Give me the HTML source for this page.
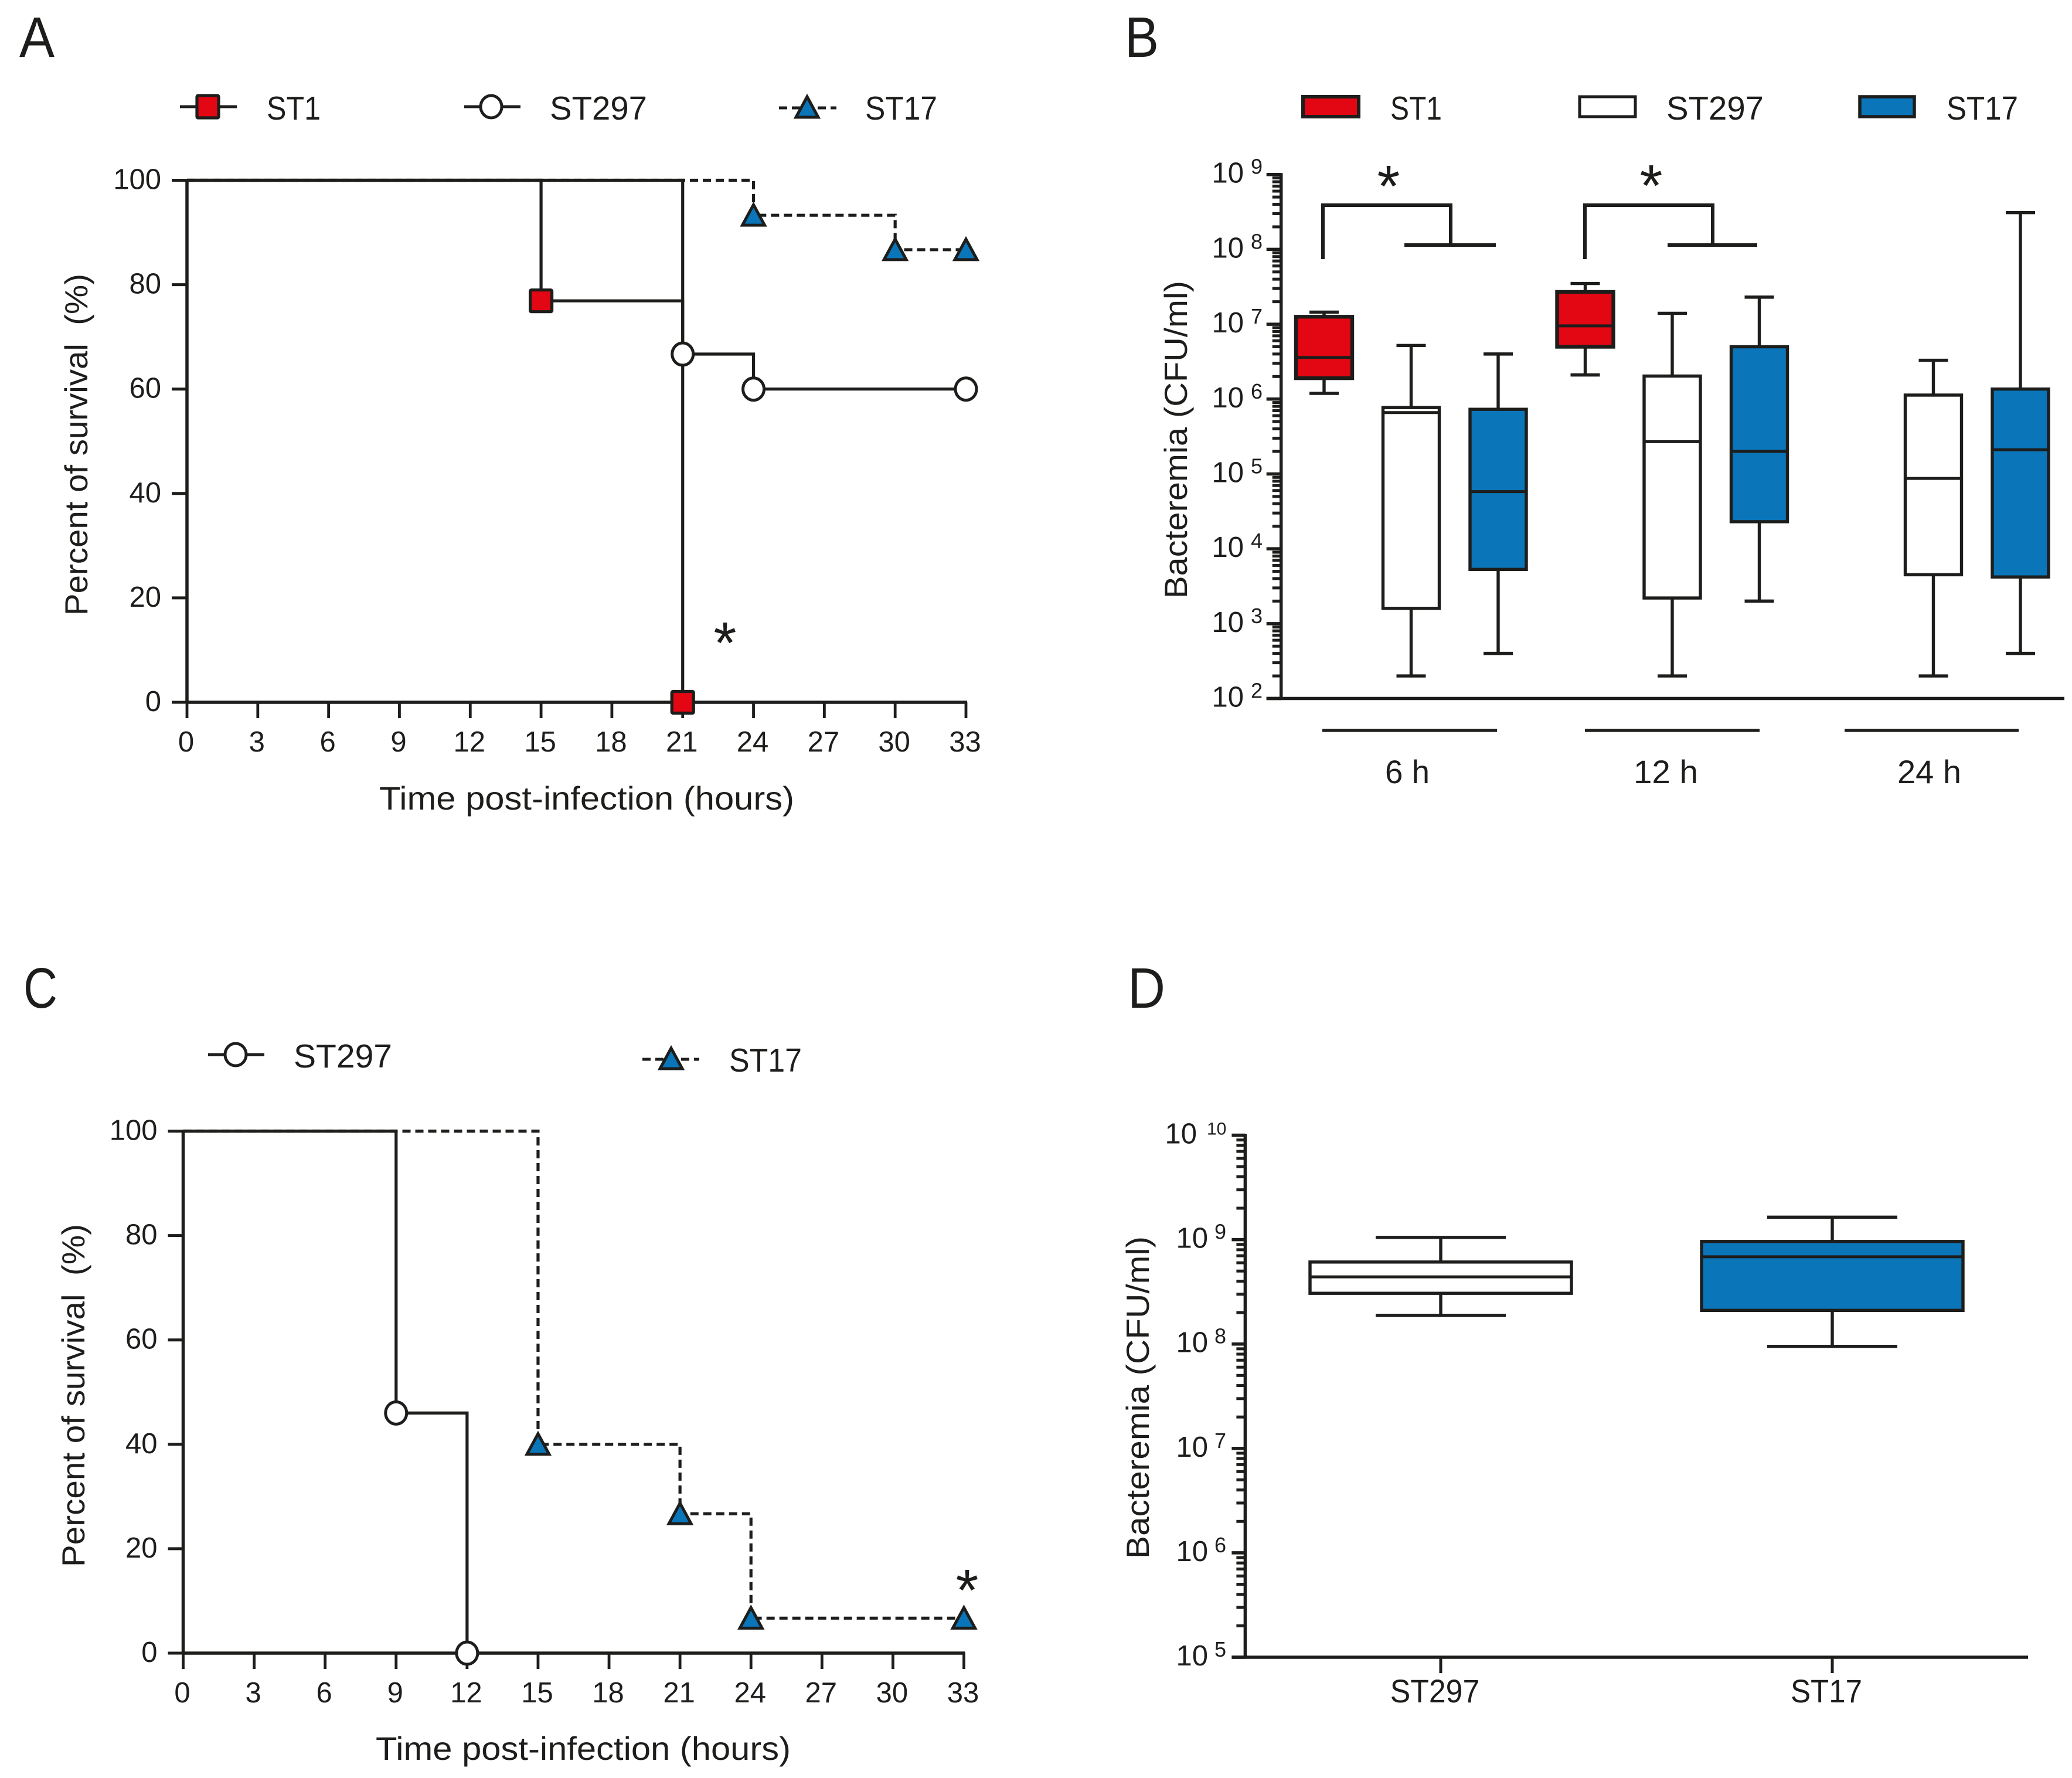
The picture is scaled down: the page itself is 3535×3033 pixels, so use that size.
<!DOCTYPE html>
<html lang="en">
<head>
<meta charset="utf-8">
<title>Survival and bacteremia panels</title>
<style>
html,body{margin:0;padding:0;background:#fff;}
svg{display:block;}
text{font-family:"Liberation Sans",sans-serif;fill:#1d1d1b;white-space:pre;}
</style>
</head>
<body>
<svg id="root" xmlns="http://www.w3.org/2000/svg" width="3535" height="3033" viewBox="0 0 3535 3033">
  <rect x="0" y="0" width="3535" height="3033" fill="#fff"/>

  <!-- panel letters -->
  <text x="33" y="97" font-size="97" textLength="60" lengthAdjust="spacingAndGlyphs">A</text>
  <text x="1919" y="97" font-size="97" textLength="58" lengthAdjust="spacingAndGlyphs">B</text>
  <text x="40" y="1719" font-size="97" textLength="58" lengthAdjust="spacingAndGlyphs">C</text>
  <text x="1924" y="1719" font-size="97" textLength="64" lengthAdjust="spacingAndGlyphs">D</text>

  <!-- panel A legend -->
  <g stroke="#1d1d1b" stroke-width="5">
    <g>
      <line x1="307" y1="182" x2="404" y2="182"/>
      <rect x="336" y="163" width="37" height="38" rx="2" fill="#e30613" stroke-width="5.2"/>
      <text x="455" y="204" font-size="57" textLength="92" lengthAdjust="spacingAndGlyphs" stroke="none">ST1</text>
    </g>
    <g>
      <line x1="792" y1="182" x2="888" y2="182"/>
      <ellipse cx="838" cy="182" rx="18" ry="19" fill="#fff"/>
      <text x="938" y="204" font-size="57" textLength="166" lengthAdjust="spacingAndGlyphs" stroke="none">ST297</text>
    </g>
    <g>
      <line x1="1329" y1="184" x2="1427" y2="184" stroke-dasharray="14 8"/>
      <polygon points="1377,165 1396,200 1358,200" fill="#0a75b9"/>
      <text x="1476" y="204" font-size="57" textLength="123" lengthAdjust="spacingAndGlyphs" stroke="none">ST17</text>
    </g>
  </g>

  <!-- panel B legend -->
  <g stroke="#1d1d1b">
    <g>
      <rect x="2223" y="165" width="95" height="34" fill="#e30613" stroke-width="6"/>
      <text x="2372" y="204" font-size="57" textLength="88" lengthAdjust="spacingAndGlyphs" stroke="none">ST1</text>
    </g>
    <g>
      <rect x="2695" y="165" width="95" height="34" fill="#fff" stroke-width="5"/>
      <text x="2843" y="204" font-size="57" textLength="166" lengthAdjust="spacingAndGlyphs" stroke="none">ST297</text>
    </g>
    <g>
      <rect x="3173" y="165" width="93" height="34" fill="#0a75b9" stroke-width="5.5"/>
      <text x="3321" y="204" font-size="57" textLength="122" lengthAdjust="spacingAndGlyphs" stroke="none">ST17</text>
    </g>
  </g>

  <!-- panel C legend -->
  <g stroke="#1d1d1b" stroke-width="5">
    <g>
      <line x1="355" y1="1799" x2="451" y2="1799"/>
      <ellipse cx="402" cy="1799" rx="18" ry="19" fill="#fff"/>
      <text x="501" y="1821" font-size="57" textLength="168" lengthAdjust="spacingAndGlyphs" stroke="none">ST297</text>
    </g>
    <g>
      <line x1="1096" y1="1807" x2="1193" y2="1807" stroke-dasharray="14 8"/>
      <polygon points="1145,1788 1164,1823 1126,1823" fill="#0a75b9"/>
      <text x="1244" y="1828" font-size="57" textLength="124" lengthAdjust="spacingAndGlyphs" stroke="none">ST17</text>
    </g>
  </g>

  <!-- axis titles -->
  <text x="647" y="1381" font-size="56" textLength="708" lengthAdjust="spacingAndGlyphs">Time post-infection (hours)</text>
  <text transform="translate(149,1050) rotate(-90)" x="0" y="0" font-size="55" textLength="583" lengthAdjust="spacingAndGlyphs">Percent of survival  (%)</text>
  <text x="641" y="3002" font-size="56" textLength="708" lengthAdjust="spacingAndGlyphs">Time post-infection (hours)</text>
  <text transform="translate(144,2673) rotate(-90)" x="0" y="0" font-size="55" textLength="585" lengthAdjust="spacingAndGlyphs">Percent of survival  (%)</text>
  <text transform="translate(2025,1021) rotate(-90)" x="0" y="0" font-size="55" textLength="542" lengthAdjust="spacingAndGlyphs">Bacteremia (CFU/ml)</text>
  <text transform="translate(1960,2659) rotate(-90)" x="0" y="0" font-size="55" textLength="550" lengthAdjust="spacingAndGlyphs">Bacteremia (CFU/ml)</text>

  <!-- significance annotations -->
  <text x="1237" y="1131" font-size="100" text-anchor="middle">*</text>
  <text x="1650" y="2747" font-size="100" text-anchor="middle">*</text>
  <text x="2369" y="352" font-size="100" text-anchor="middle">*</text>
  <text x="2817" y="351" font-size="100" text-anchor="middle">*</text>
  <path d="M2257 442V350H2475V418M2396 418H2552" fill="none" stroke="#1d1d1b" stroke-width="6"/>
  <path d="M2704 442V350H2922V418M2845 418H2998" fill="none" stroke="#1d1d1b" stroke-width="6"/>

  <!-- panel B time group underlines and labels -->
  <line x1="2256" y1="1246" x2="2554" y2="1246" stroke="#1d1d1b" stroke-width="5.3"/>
  <line x1="2704" y1="1246" x2="3002" y2="1246" stroke="#1d1d1b" stroke-width="5.3"/>
  <line x1="3147" y1="1246" x2="3444" y2="1246" stroke="#1d1d1b" stroke-width="5.3"/>
  <text x="2363" y="1336" font-size="56" textLength="76" lengthAdjust="spacingAndGlyphs">6 h</text>
  <text x="2787" y="1336" font-size="56" textLength="110" lengthAdjust="spacingAndGlyphs">12 h</text>
  <text x="3237" y="1336" font-size="56" textLength="109" lengthAdjust="spacingAndGlyphs">24 h</text>

  <g id="charts"></g>
</svg>

<script>
// Shared tick labels
const timeTicks = [0, 3, 6, 9, 12, 15, 18, 21, 24, 27, 30, 33];
const percentTicks = [0, 20, 40, 60, 80, 100];

// Panel A: survival drops (time in hours, percent surviving)
const aSt1Times = [15, 21];
const aSt1Values = [76.9, 0];
const aSt297Times = [21, 24, 33];
const aSt297Values = [66.7, 60, 60];
const aSt17Times = [24, 30, 33];
const aSt17Values = [93.3, 86.7, 86.7];

// Panel C: survival drops
const cSt297Times = [9, 12];
const cSt297Values = [46, 0];
const cSt17Times = [15, 21, 24, 33];
const cSt17Values = [40, 26.7, 6.7, 6.7];

// Panel B: box-and-whisker summaries (CFU/ml)
const bExponents = [2, 3, 4, 5, 6, 7, 8, 9];
const bTimepointIndex = [0, 0, 0, 1, 1, 1, 2, 2];
const bSeriesIndex = [0, 1, 2, 0, 1, 2, 1, 2];
const bLow = [1.19e6, 200, 400, 2.1e6, 200, 2e3, 200, 400];
const bQ1 = [1.9e6, 1.6e3, 5.3e3, 5e6, 2.2e3, 2.3e4, 4.5e3, 4.2e3];
const bMedian = [3.6e6, 6.6e5, 5.8e4, 9.5e6, 2.7e5, 2e5, 8.7e4, 2.1e5];
const bQ3 = [1.26e7, 7.7e5, 7.3e5, 2.7e7, 2.03e6, 5e6, 1.13e6, 1.36e6];
const bHigh = [1.45e7, 5.2e6, 4e6, 3.5e7, 1.4e7, 2.3e7, 3.3e6, 3.1e8];

// Panel D: box-and-whisker summaries (CFU/ml)
const dExponents = [5, 6, 7, 8, 9, 10];
const dCategories = ['ST297', 'ST17'];
const dLow = [1.88e8, 9.5e7];
const dQ1 = [3.06e8, 2.1e8];
const dMedian = [4.4e8, 6.85e8];
const dQ3 = [6.1e8, 9.6e8];
const dHigh = [1.05e9, 1.64e9];

const INK = '#1d1d1b';
const SERIES_FILL = ['#e30613', '#ffffff', '#0a75b9'];
const SERIES_NAME = ['st1', 'st297', 'st17'];
const SVG_NS = 'http://www.w3.org/2000/svg';
const charts = document.getElementById('charts');

function make(parent, tag, attrs, text) {
  const el = document.createElementNS(SVG_NS, tag);
  for (const k in attrs) el.setAttribute(k, attrs[k]);
  if (text !== undefined) el.textContent = text;
  parent.appendChild(el);
  return el;
}

function linearAxes(parent, x0, x1, yTop, yBottom, panel) {
  const sx = t => x0 + (t / 33) * (x1 - x0);
  const sy = v => yBottom - (v / 100) * (yBottom - yTop);
  const yAxis = make(parent, 'line', {x1: x0, y1: yTop - 2.5, x2: x0, y2: yBottom + 2.5, stroke: INK, 'stroke-width': 5.5});
  
  
  const xAxis = make(parent, 'line', {x1: x0, y1: yBottom, x2: x1 + 2, y2: yBottom, stroke: INK, 'stroke-width': 5.5});
  
  
  percentTicks.forEach(v => {
    const tick = make(parent, 'line', {x1: x0 - 26, y1: sy(v), x2: x0, y2: sy(v), stroke: INK, 'stroke-width': 5});
    
    
    const label = make(parent, 'text', {x: x0 - 44, y: sy(v) + 15, 'font-size': 49, 'text-anchor': 'end'}, String(v));
    
    
  });
  timeTicks.forEach(t => {
    const tick = make(parent, 'line', {x1: sx(t), y1: yBottom, x2: sx(t), y2: yBottom + 27, stroke: INK, 'stroke-width': 4.8});
    
    
    const label = make(parent, 'text', {x: sx(t) - 1.5, y: yBottom + 84, 'font-size': 49, 'text-anchor': 'middle'}, String(t));
    
    
  });
  return {sx, sy};
}

function stepPath(times, values, sx, sy) {
  let d = 'M' + sx(0) + ' ' + sy(100);
  times.forEach((t, i) => { d += 'H' + sx(t) + 'V' + sy(values[i]); });
  return d;
}

function survivalLine(parent, times, values, scale, dashed, name) {
  const path = make(parent, 'path', {d: stepPath(times, values, scale.sx, scale.sy), fill: 'none', stroke: INK, 'stroke-width': 5.2});
  if (dashed) path.setAttribute('stroke-dasharray', '14 8');
  
  
}

function survivalMarkers(parent, times, values, scale, shape, name) {
  times.forEach((t, i) => {
    const cx = scale.sx(t);
    const cy = scale.sy(values[i]);
    let m;
    if (shape === 'square') {
      m = make(parent, 'rect', {x: cx - 18.5, y: cy - 18.5, width: 37, height: 37, rx: 2, fill: '#e30613', stroke: INK, 'stroke-width': 5.2});
    } else if (shape === 'circle') {
      m = make(parent, 'ellipse', {cx: cx, cy: cy, rx: 18, ry: 19, fill: '#fff', stroke: INK, 'stroke-width': 5});
    } else {
      m = make(parent, 'polygon', {points: cx + ',' + (cy - 18) + ' ' + (cx + 19) + ',' + (cy + 17) + ' ' + (cx - 19) + ',' + (cy + 17), fill: '#0a75b9', stroke: INK, 'stroke-width': 5});
    }
    
    
  });
}

function logAxis(parent, axisX, yTop, yBottom, exps, xEnd, majorLen, minorLen, labelRight, supLeft, panel) {
  const lo = exps[0];
  const hi = exps[exps.length - 1];
  const sy = v => yTop + (hi - Math.log10(v)) / (hi - lo) * (yBottom - yTop);
  const yAxis = make(parent, 'line', {x1: axisX, y1: yTop - 2.5, x2: axisX, y2: yBottom + 2.5, stroke: INK, 'stroke-width': 5.5});
  
  
  const xAxis = make(parent, 'line', {x1: axisX - majorLen, y1: yBottom, x2: xEnd, y2: yBottom, stroke: INK, 'stroke-width': 5.5});
  
  
  exps.forEach(e => {
    const y = sy(Math.pow(10, e));
    const tick = make(parent, 'line', {x1: axisX - majorLen, y1: y, x2: axisX, y2: y, stroke: INK, 'stroke-width': 5.5});
    
    
    const two = e >= 10;
    const base = make(parent, 'text', {x: labelRight - (two ? 19 : 0), y: y + 14, 'font-size': 49, 'text-anchor': 'end'}, '10');
    
    
    const sup = make(parent, 'text', {x: supLeft - (two ? 13 : 0), y: y - 1, 'font-size': 36}, String(e));
    if (two) sup.setAttribute('font-size', '30');
    
    
    if (e < hi) {
      for (let m = 2; m <= 9; m++) {
        const my = sy(m * Math.pow(10, e));
        const minor = make(parent, 'line', {x1: axisX - minorLen, y1: my, x2: axisX, y2: my, stroke: INK, 'stroke-width': 5});
        
        
      }
    }
  });
  return sy;
}

function boxMark(parent, cx, halfBox, halfCap, sy, low, q1, med, q3, high, fill, sw, name) {
  const whisker = make(parent, 'line', {x1: cx, y1: sy(low), x2: cx, y2: sy(high), stroke: INK, 'stroke-width': 5.4});
  
  
  const capLow = make(parent, 'line', {x1: cx - halfCap, y1: sy(low), x2: cx + halfCap, y2: sy(low), stroke: INK, 'stroke-width': 5.4});
  
  
  const capHigh = make(parent, 'line', {x1: cx - halfCap, y1: sy(high), x2: cx + halfCap, y2: sy(high), stroke: INK, 'stroke-width': 5.4});
  
  
  const box = make(parent, 'rect', {x: cx - halfBox, y: sy(q3), width: halfBox * 2, height: sy(q1) - sy(q3), fill: fill, stroke: INK, 'stroke-width': sw});
  
  
  const median = make(parent, 'line', {x1: cx - halfBox, y1: sy(med), x2: cx + halfBox, y2: sy(med), stroke: INK, 'stroke-width': 5});
  
  
}

// Panel A
const groupA = make(charts, 'g', {});


const scaleA = linearAxes(groupA, 319, 1648, 307.5, 1198, 'panel-a');
survivalLine(groupA, aSt17Times, aSt17Values, scaleA, true, 'st17');
survivalLine(groupA, aSt297Times, aSt297Values, scaleA, false, 'st297');
survivalLine(groupA, aSt1Times, aSt1Values, scaleA, false, 'st1');
survivalMarkers(groupA, aSt17Times, aSt17Values, scaleA, 'triangle', 'st17');
survivalMarkers(groupA, aSt297Times, aSt297Values, scaleA, 'circle', 'st297');
survivalMarkers(groupA, aSt1Times, aSt1Values, scaleA, 'square', 'st1');

// Panel C
const groupC = make(charts, 'g', {});


const scaleC = linearAxes(groupC, 312.5, 1644.5, 1929.5, 2820, 'panel-c');
survivalLine(groupC, cSt17Times, cSt17Values, scaleC, true, 'st17');
survivalLine(groupC, cSt297Times, cSt297Values, scaleC, false, 'st297');
survivalMarkers(groupC, cSt17Times, cSt17Values, scaleC, 'triangle', 'st17');
survivalMarkers(groupC, cSt297Times, cSt297Values, scaleC, 'circle', 'st297');

// Panel B
const groupB = make(charts, 'g', {});


const syB = logAxis(groupB, 2185.7, 297.7, 1191.5, bExponents, 3522, 25, 15, 2122, 2134, 'panel-b');
const bSlotStart = 2259;
const bSlotStep = 148.5;
bLow.forEach((low, i) => {
  const slot = bTimepointIndex[i] * 3 + bSeriesIndex[i];
  const s = bSeriesIndex[i];
  boxMark(groupB, bSlotStart + slot * bSlotStep, 48, 25, syB, low, bQ1[i], bMedian[i], bQ3[i], bHigh[i], SERIES_FILL[s], s === 0 ? 6.4 : 5.4, SERIES_NAME[s]);
});

// Panel D
const groupD = make(charts, 'g', {});


const syD = logAxis(groupD, 2124.4, 1936.5, 2827, dExponents, 3460, 23, 15, 2061, 2072, 'panel-d');
const dSlotStart = 2458;
const dSlotStep = 668;
dCategories.forEach((cat, i) => {
  const cx = dSlotStart + i * dSlotStep;
  boxMark(groupD, cx, 223, 111, syD, dLow[i], dQ1[i], dMedian[i], dQ3[i], dHigh[i], i === 0 ? '#ffffff' : '#0a75b9', 5.4, cat.toLowerCase());
  const tick = make(groupD, 'line', {x1: cx, y1: 2827, x2: cx, y2: 2854, stroke: INK, 'stroke-width': 5});
  
  
  const label = make(groupD, 'text', {x: cx - 10, y: 2904, 'font-size': 56, 'text-anchor': 'middle'}, cat);
  label.setAttribute('textLength', cat.length * 30.5);
  label.setAttribute('lengthAdjust', 'spacingAndGlyphs');
  
  
});
</script>
</body>
</html>
